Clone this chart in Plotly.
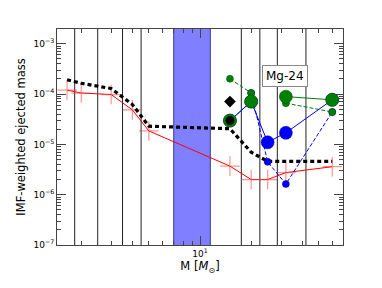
import plotly.graph_objects as go
import math

# ---- data ----
mass = [1.65, 2, 3, 4, 5, 15, 20, 25, 32, 60]
red_yield = [1.2e-4, 1.05e-4, 0.98e-4, 4.85e-5, 1.85e-5, 3.7e-6, 2.0e-6, 2.0e-6, 2.75e-6, 3.6e-6]
black_yield = [1.93e-4, 1.64e-4, 1.29e-4, 6.2e-5, 2.3e-5, 2.05e-5, 7.0e-6, 4.6e-6, 4.6e-6, 4.6e-6]

mass_hi = [15, 20, 25, 32, 60]
green_big = [2.97e-5, 7.1e-5, None, 8.9e-5, 7.7e-5]
green_small = [2.02e-4, 1.05e-4, None, 6.6e-5, 4.4e-5]
blue_big = [2.97e-5, 7.1e-5, 1.1e-5, 1.7e-5, 7.7e-5]
blue_small = [None, 1.05e-4, 4.5e-6, 1.63e-6, 4.4e-5]

black_circle_mass = [15]
black_circle_val = [2.97e-5]
diamond_mass = [15]
diamond_val = [7.1e-5]

vlines = [1.83, 2.5, 3.5, 4.5, 17.5, 22.5, 28.5, 42]
band = [7.0, 11.5]

yticks = [1e-7, 1e-6, 1e-5, 1e-4, 1e-3]
ytext = ["10<sup>−7</sup>", "10<sup>−6</sup>", "10<sup>−5</sup>", "10<sup>−4</sup>", "10<sup>−3</sup>"]
xticks = [10]
xtext = ["10<sup>1</sup>"]

YLO, YHI = 1e-9, 1e-1

fig = go.Figure()

# band
fig.add_trace(go.Scatter(x=[band[0], band[1], band[1], band[0], band[0]],
                         y=[YLO, YLO, YHI, YHI, YLO], mode="lines", fill="toself",
                         fillcolor="rgba(0,0,255,0.5)", line=dict(color="rgba(0,0,90,0.7)", width=1),
                         showlegend=False, hoverinfo="skip"))
for v in vlines:
    fig.add_trace(go.Scatter(x=[v, v], y=[YLO, YHI], mode="lines",
                             line=dict(color="#222", width=1), showlegend=False, hoverinfo="skip"))

# red
fig.add_trace(go.Scatter(x=mass, y=red_yield, mode="lines+markers",
                         line=dict(color="red", width=1),
                         marker=dict(symbol="cross-thin", size=14, line=dict(color="rgba(255,60,60,0.55)", width=1.2)),
                         showlegend=False))
# black dotted
fig.add_trace(go.Scatter(x=mass, y=black_yield, mode="lines",
                         line=dict(color="black", width=3.2, dash="4px,3px"), showlegend=False))

# green lines
fig.add_trace(go.Scatter(x=mass_hi, y=green_big, mode="lines", connectgaps=False,
                         line=dict(color="green", width=1), showlegend=False))
fig.add_trace(go.Scatter(x=mass_hi, y=green_small, mode="lines", connectgaps=False,
                         line=dict(color="green", width=1, dash="4px,2px"), showlegend=False))
# blue lines
fig.add_trace(go.Scatter(x=mass_hi, y=blue_big, mode="lines",
                         line=dict(color="blue", width=1), showlegend=False))
fig.add_trace(go.Scatter(x=mass_hi, y=blue_small, mode="lines",
                         line=dict(color="blue", width=1, dash="4px,2px"), showlegend=False))
# blue markers
fig.add_trace(go.Scatter(x=mass_hi, y=blue_big, mode="markers",
                         marker=dict(color="blue", size=13, line=dict(color="#00008b", width=0.5)), showlegend=False))
fig.add_trace(go.Scatter(x=mass_hi, y=blue_small, mode="markers",
                         marker=dict(color="blue", size=7, line=dict(color="#00008b", width=0.5)), showlegend=False))
# green markers
fig.add_trace(go.Scatter(x=mass_hi, y=green_small, mode="markers",
                         marker=dict(color="green", size=7, line=dict(color="#004d00", width=0.5)), showlegend=False))
fig.add_trace(go.Scatter(x=mass_hi, y=green_big, mode="markers",
                         marker=dict(color="green", size=13, line=dict(color="#004d00", width=0.5)), showlegend=False))
# black markers
fig.add_trace(go.Scatter(x=black_circle_mass, y=black_circle_val, mode="markers",
                         marker=dict(color="black", size=9), showlegend=False))
fig.add_trace(go.Scatter(x=diamond_mass, y=diamond_val, mode="markers",
                         marker=dict(color="black", symbol="diamond", size=9), showlegend=False))

fig.add_annotation(x=1.5, y=-3.634, xref="x", yref="y", text="Mg-24", showarrow=False,
                   font=dict(size=12, color="black", family="DejaVu Sans"),
                   bgcolor="white", bordercolor="#888", borderwidth=1, borderpad=3)

axis_common = dict(showline=True, linecolor="#444", linewidth=1, mirror="ticks",
                   ticks="inside", ticklen=9, tickcolor="#444", showgrid=False, zeroline=False,
                   tickfont=dict(size=9, color="black", family="DejaVu Sans"))

fig.update_xaxes(type="log", range=[math.log10(1.44), math.log10(69.4)],
                 tickmode="array", tickvals=xticks, ticktext=xtext,
                 minor=dict(tickmode="array", tickvals=[2, 3, 4, 5, 6, 7, 8, 9, 20, 30, 40, 50, 60],
                            ticks="inside", ticklen=4, tickcolor="#444", showgrid=False),
                 title=dict(text="M [<i>M</i><sub>⊙</sub>]", font=dict(size=11.5, color="black", family="DejaVu Sans"), standoff=4),
                 **axis_common)

yminor = [m * 10 ** e for e in range(-7, -2) for m in range(2, 10)]
fig.update_yaxes(type="log", range=[-7, -2.706],
                 tickmode="array", tickvals=yticks, ticktext=ytext,
                 minor=dict(tickmode="array", tickvals=yminor, ticks="inside", ticklen=4,
                            tickcolor="#444", showgrid=False),
                 title=dict(text="IMF-weighted ejected mass", font=dict(size=11.5, color="black", family="DejaVu Sans"), standoff=5),
                 ticklabelstandoff=0,
                 **axis_common)

fig.update_layout(width=382, height=288, margin=dict(l=57, r=39, t=29, b=43, pad=0),
                  plot_bgcolor="white", paper_bgcolor="white",
                  font=dict(family="DejaVu Sans", color="black"))

fig.write_html("out.html", config={"displayModeBar": False},
               post_script="document.body.style.margin='0px';")
